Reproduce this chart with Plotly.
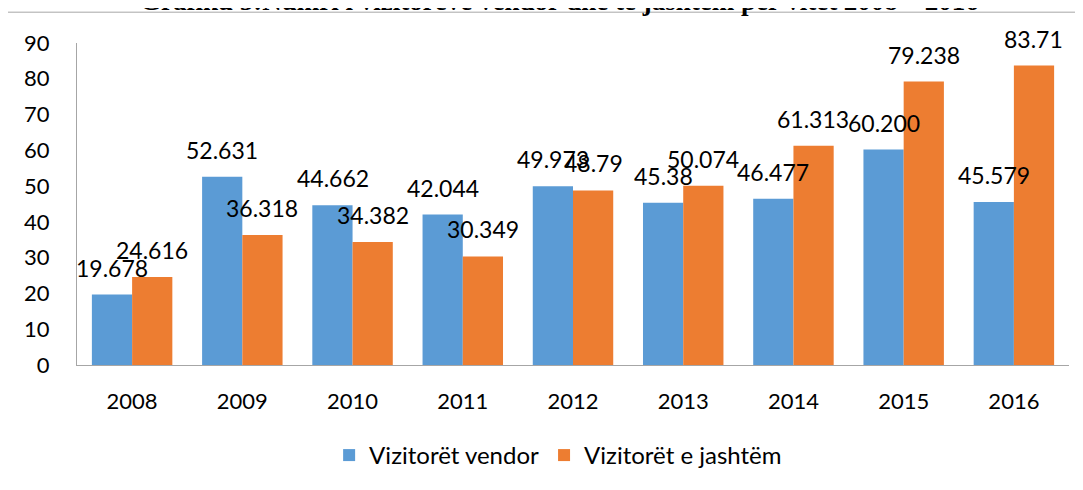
import plotly.graph_objects as go

years = ["2008", "2009", "2010", "2011", "2012", "2013", "2014", "2015", "2016"]
vendor = [19.678, 52.631, 44.662, 42.044, 49.973, 45.38, 46.477, 60.200, 45.579]
vendor_text = ["19.678", "52.631", "44.662", "42.044", "49.973", "45.38", "46.477", "60.200", "45.579"]
jashtem = [24.616, 36.318, 34.382, 30.349, 48.79, 50.074, 61.313, 79.238, 83.71]
jashtem_text = ["24.616", "36.318", "34.382", "30.349", "48.79", "50.074", "61.313", "79.238", "83.71"]
y_ticks = [0, 10, 20, 30, 40, 50, 60, 70, 80, 90]
title_text = "<b>Grafiku 5:Numri i vizitorëve vendor dhe të jashtëm për vitet 2008 – 2016</b>"

FONT = "Lato"
BLUE = "#5B9BD5"
ORANGE = "#ED7D31"

fig = go.Figure()
fig.add_trace(go.Bar(x=years, y=vendor, name="Vizitorët vendor", marker_color=BLUE,
                     marker_line_width=0))
fig.add_trace(go.Bar(x=years, y=jashtem, name="Vizitorët e jashtëm", marker_color=ORANGE,
                     marker_line_width=0))

annotations = []
for series, texts, shift in ((vendor, vendor_text, -20), (jashtem, jashtem_text, 20)):
    for idx, (v, t) in enumerate(zip(series, texts)):
        # category axis: annotation x given as category index
        annotations.append(dict(x=idx, y=v, text=t, xref="x", yref="y", showarrow=False,
                                xshift=shift, yshift=11, yanchor="bottom", xanchor="center",
                                font=dict(family=FONT, size=23, color="#000000")))

# chart title, clipped at the top of the page as in the reference
annotations.append(dict(text=title_text, xref="paper", yref="paper", x=0.486, y=1.1315,
                        xanchor="center", yanchor="middle", showarrow=False,
                        font=dict(family="Liberation Serif", size=27, color="#000000")))

# page body has an 8px offset, so the figure is sized/margined to compensate
fig.update_layout(
    width=1075, height=482,
    margin=dict(l=69, r=14, t=35, b=123),
    paper_bgcolor="white", plot_bgcolor="white",
    barmode="group", bargap=0.27, bargroupgap=0,
    font=dict(family=FONT, size=22, color="#000000"),
    legend=dict(orientation="h", x=0.485, xanchor="center", y=-0.281, yanchor="middle",
                font=dict(family=FONT, size=24), bgcolor="rgba(0,0,0,0)"),
    xaxis=dict(type="category", range=[-0.5, len(years) - 0.5], showline=True,
               linecolor="#A6A6A6", linewidth=1, showgrid=False,
               ticks="", ticklabelstandoff=17, tickfont=dict(size=22)),
    yaxis=dict(range=[0, 90], tickvals=y_ticks, showline=True, linecolor="#A6A6A6", linewidth=1,
               showgrid=False, zeroline=False, ticks="", ticklabelstandoff=22, tickfont=dict(size=22)),
    annotations=annotations,
    shapes=[dict(type="rect", xref="paper", yref="paper", x0=-0.0706, y0=-0.6, x1=1.05, y1=1.0957,
                 line=dict(color="#A6A6A6", width=1), fillcolor="rgba(0,0,0,0)", layer="below")],
)
fig.write_html("out.html")
